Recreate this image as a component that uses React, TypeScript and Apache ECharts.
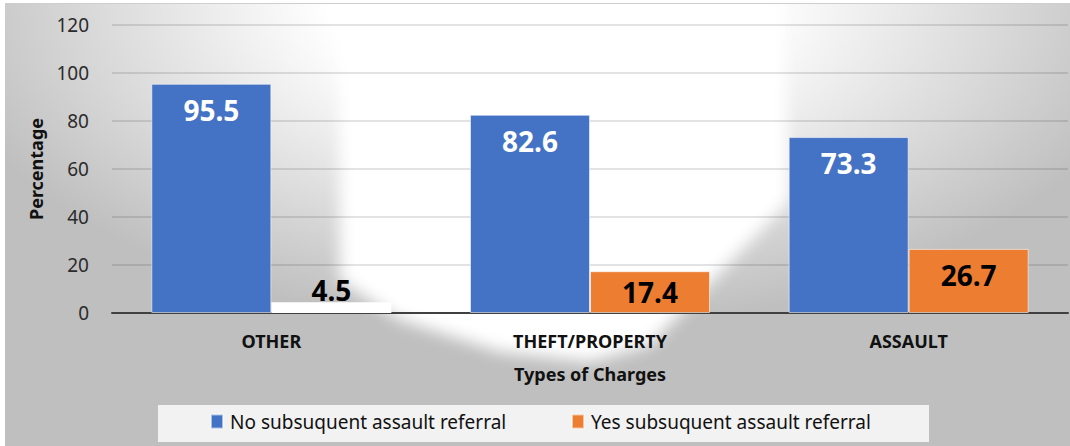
import React, { useEffect, useRef } from "react";
import * as echarts from "echarts";

const categories = ["OTHER", "THEFT/PROPERTY", "ASSAULT"];
const noReferral = [95.5, 82.6, 73.3];
const yesReferral = [4.5, 17.4, 26.7];
const seriesNames = ["No subsuquent assault referral", "Yes subsuquent assault referral"];
const yMin = 0;
const yMax = 120;
const yStep = 20;

const FONT = "'Noto Sans', 'DejaVu Sans', sans-serif";
const BLUE = "#4472C4";
const ORANGE = "#ED7D31";

export default function App() {
  const ref = useRef<HTMLDivElement>(null);

  useEffect(() => {
    document.body.style.margin = "0";
    const chart = echarts.init(ref.current!, null, { renderer: "svg" });

    const yesData = yesReferral.map((v, i) => {
      if (i === 0) {
        return {
          value: v,
          itemStyle: { color: "#ffffff", borderWidth: 0 },
          label: { position: "top", distance: -2 },
        };
      }
      if (i === 1) {
        return { value: v, label: { position: "inside" } };
      }
      return { value: v, label: { position: "insideTop", distance: 12 } };
    });

    chart.setOption({
      animation: false,
      backgroundColor: "transparent",
      textStyle: { fontFamily: FONT },
      grid: { left: 107, right: 2, top: 22, bottom: 133, containLabel: false },
      graphic: [
        {
          type: "rect",
          z: -1,
          shape: { x: 153, y: 402, width: 771, height: 37 },
          style: { fill: "#f2f2f2" },
        },
      ],
      legend: [
        {
          data: [seriesNames[0]],
          left: 205,
          top: 409,
          itemWidth: 12,
          itemHeight: 14,
          itemGap: 0,
          icon: "rect",
          textStyle: { fontFamily: FONT, fontSize: 19, color: "#111", padding: [0, 0, 0, 2] },
          padding: 0,
        },
        {
          data: [seriesNames[1]],
          left: 566,
          top: 409,
          itemWidth: 12,
          itemHeight: 14,
          itemGap: 0,
          icon: "rect",
          textStyle: { fontFamily: FONT, fontSize: 19, color: "#111", padding: [0, 0, 0, 2] },
          padding: 0,
        },
      ],
      xAxis: {
        type: "category",
        data: categories,
        name: "Types of Charges",
        nameLocation: "middle",
        nameGap: 52,
        nameTextStyle: { fontFamily: FONT, fontSize: 18, fontWeight: "bold", color: "#111" },
        axisLine: { show: true, lineStyle: { color: "#404040", width: 2 } },
        axisTick: { show: false },
        axisLabel: {
          margin: 19,
          fontFamily: FONT,
          fontSize: 18,
          fontWeight: "bold",
          color: "#111",
        },
        splitLine: { show: false },
      },
      yAxis: {
        type: "value",
        min: yMin,
        max: yMax,
        interval: yStep,
        name: "Percentage",
        nameLocation: "middle",
        nameRotate: 90,
        nameGap: 66,
        nameTextStyle: { fontFamily: FONT, fontSize: 18, fontWeight: "bold", color: "#111" },
        axisLine: { show: false },
        axisTick: { show: false },
        axisLabel: { margin: 23, fontFamily: FONT, fontSize: 19, color: "#2b2b2b" },
        splitLine: { show: true, lineStyle: { color: "rgba(0,0,0,0.15)", width: 1.5 } },
      },
      series: [
        {
          name: seriesNames[0],
          type: "bar",
          data: noReferral,
          barWidth: 120,
          barGap: "0%",
          itemStyle: { color: BLUE, borderColor: "rgba(255,255,255,0.55)", borderWidth: 1 },
          label: {
            show: true,
            position: "insideTop",
            distance: 12,
            fontFamily: FONT,
            fontSize: 28,
            fontWeight: "bold",
            color: "#ffffff",
          },
        },
        {
          name: seriesNames[1],
          type: "bar",
          data: yesData,
          barWidth: 120,
          barGap: "0%",
          itemStyle: { color: ORANGE, borderColor: "rgba(255,255,255,0.55)", borderWidth: 1 },
          label: {
            show: true,
            fontFamily: FONT,
            fontSize: 28,
            fontWeight: "bold",
            color: "#000000",
          },
        },
      ],
    });

    return () => chart.dispose();
  }, []);

  return (
    <div style={{ width: 1070, height: 446, position: "relative", background: "#ffffff", overflow: "hidden" }}>
      <div
        style={{
          position: "absolute",
          left: 5,
          top: 3,
          width: 1065,
          height: 443,
          overflow: "hidden",
          background: "#bfbfbf",
        }}
      >
        <div
          style={{
            position: "absolute",
            left: 0,
            top: 0,
            width: 1065,
            height: 443,
            background:
              "radial-gradient(ellipse 620px 330px at 540px -3px, rgba(255,255,255,1) 35%, rgba(255,255,255,0) 100%)",
          }}
        />
        <div style={{ position: "absolute", left: 0, top: 0, width: 1065, height: 443, filter: "blur(8px)" }}>
          <div
            style={{
              position: "absolute",
              left: 0,
              top: 0,
              width: 1065,
              height: 443,
              background: "#ffffff",
              clipPath:
                "polygon(335px -30px, 775px -30px, 785px 197px, 645px 342px, 585px 359px, 495px 349px, 395px 317px, 335px 277px)",
            }}
          />
        </div>
        <div style={{ position: "absolute", left: 0, top: 0, width: 1065, height: 1, background: "#cfcfcf" }} />
        <div ref={ref} style={{ position: "absolute", left: 0, top: 0, width: 1065, height: 443 }} />
      </div>
    </div>
  );
}
